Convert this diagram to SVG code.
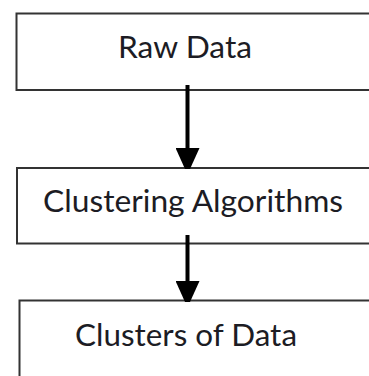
<svg xmlns="http://www.w3.org/2000/svg" width="369" height="376" viewBox="0 0 369 376">
  <style>
    .box { fill: #ffffff; stroke: #333333; stroke-width: 2; }
    .label { font-family: Lato, "Open Sans", sans-serif; font-size: 30px; fill: #1c1c24; }
    .edge { stroke: #000000; stroke-width: 4; fill: none; marker-end: url(#head); }
  </style>
  <defs>
    <marker id="head" markerUnits="userSpaceOnUse" markerWidth="22" markerHeight="24" viewBox="0 0 22 24" refX="20" refY="12" orient="auto">
      <path d="M0,0 L21,9.5 L21,14.5 L0,24 Z" fill="#000000"/>
    </marker>
  </defs>
  <rect width="369" height="376" fill="#ffffff"/>

  <g id="raw-data">
    <rect class="box" x="16.5" y="13.5" width="370" height="76.5"/>
    <text class="label" x="118" y="58" textLength="134" lengthAdjust="spacingAndGlyphs">Raw Data</text>
  </g>

  <g id="clustering-algorithms">
    <rect class="box" x="17" y="168" width="370" height="75.5"/>
    <text class="label" x="43" y="212" textLength="300" lengthAdjust="spacingAndGlyphs">Clustering Algorithms</text>
  </g>

  <g id="clusters-of-data">
    <rect class="box" x="19.5" y="300.5" width="370" height="90"/>
    <text class="label" x="75" y="346" textLength="222" lengthAdjust="spacingAndGlyphs">Clusters of Data</text>
  </g>

  <g id="connectors">
    <line class="edge" x1="187.5" y1="85" x2="187.5" y2="168"/>
    <line class="edge" x1="187.5" y1="235" x2="187.5" y2="301"/>
  </g>
</svg>
